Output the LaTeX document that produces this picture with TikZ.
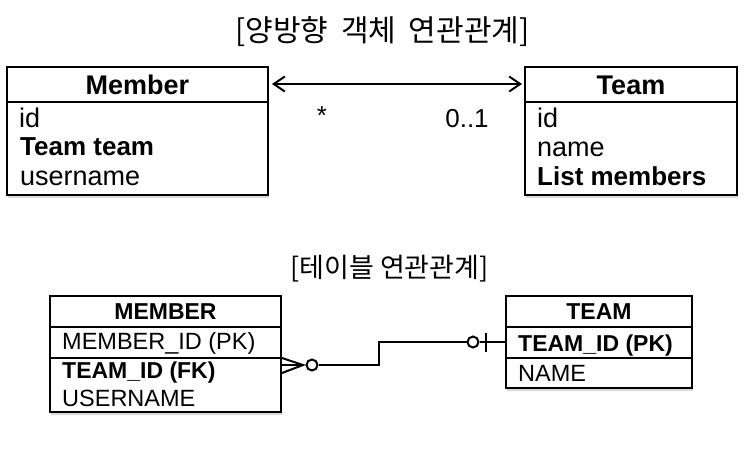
\documentclass[tikz,border=0pt]{standalone}
\usepackage{fontspec}
\setmainfont{Liberation Sans}
\newfontfamily\kr{Noto Sans CJK KR}
\usetikzlibrary{arrows.meta,shadows}
\begin{document}
\begin{tikzpicture}[x=1pt,y=-1pt,
  box/.style={draw, line width=2pt, fill=white, inner sep=0pt,
    drop shadow={shadow xshift=1pt, shadow yshift=-2.5pt, opacity=0.3}},
  sep/.style={line width=2pt},
  conn/.style={line width=2pt},
  ttlA/.style={inner sep=0pt, anchor=base, font=\kr\fontsize{30}{34}\selectfont},
  ttlB/.style={inner sep=0pt, anchor=base, font=\kr\fontsize{27}{31}\selectfont},
  hdA/.style={inner sep=0pt, anchor=base, font=\bfseries\fontsize{27}{30}\selectfont},
  rowA/.style={inner sep=0pt, anchor=base west, font=\fontsize{27}{30}\selectfont},
  rowAb/.style={inner sep=0pt, anchor=base west, font=\bfseries\fontsize{26}{30}\selectfont},
  hdB/.style={inner sep=0pt, anchor=base, font=\bfseries\fontsize{23}{28}\selectfont},
  rowB/.style={inner sep=0pt, anchor=base west, font=\fontsize{23.5}{28}\selectfont},
  rowBb/.style={inner sep=0pt, anchor=base west, font=\bfseries\fontsize{23}{28}\selectfont},
  ring/.style={circle, draw, line width=2pt, fill=white, minimum size=11pt, inner sep=0pt},
  mult/.style={inner sep=0pt, anchor=base, font=\fontsize{26}{30}\selectfont}]
\useasboundingbox (0,0) rectangle (750,448);

% ---------- top: object association ----------
\node[ttlA] (title1) at (382.5,41) {[양방향\hspace{0.2em} 객체\hspace{0.2em} 연관관계]};

\node[box, minimum width=261pt, minimum height=128pt] (M) at (137.5,131) {};
\draw[sep] (M.west |- 0,102) -- (M.east |- 0,102);
\node[hdA] (Mh) at (137.5,94) {Member};
\node[rowA]  (Mr1) at (19,127) {id};
\node[rowAb] (Mr2) at (20,155) {Team team};
\node[rowA]  (Mr3) at (20,185) {username};

\node[box, minimum width=212pt, minimum height=128pt] (T) at (631,131) {};
\draw[sep] (T.west |- 0,102) -- (T.east |- 0,102);
\node[hdA] (Th) at (631,94) {Team};
\node[rowA]  (Tr1) at (537,127) {id};
\node[rowA]  (Tr2) at (537,156) {name};
\node[rowAb] (Tr3) at (537,185) {List members};

\draw[line width=2pt, {Straight Barb[length=11pt,width=15pt]}-{Straight Barb[length=11pt,width=15pt]},
  shorten <=3pt, shorten >=2pt] (M.east |- 0,84) -- (T.west |- 0,84);
\node[mult] (star) at (322,124) {*};
\node[mult] (zo) at (467,127) {0..1};

% ---------- bottom: table association ----------
\node[ttlB] (title2) at (389.5,277) {[테이블 연관관계]};

\node[box, minimum width=231pt, minimum height=116pt] (M2) at (165.5,354) {};
\draw[sep] (M2.west |- 0,327) -- (M2.east |- 0,327);
\draw[sep] (M2.west |- 0,358) -- (M2.east |- 0,358);
\node[hdB] (M2h) at (165.5,319) {MEMBER};
\node[rowB]  (M2r1) at (62,349) {MEMBER\_ID (PK)};
\node[rowBb] (M2r2) at (62,378) {TEAM\_ID (FK)};
\node[rowB]  (M2r3) at (62,406) {USERNAME};

\node[box, minimum width=186pt, minimum height=92pt] (T2) at (599,342) {};
\draw[sep] (T2.west |- 0,327) -- (T2.east |- 0,327);
\draw[sep] (T2.west |- 0,358) -- (T2.east |- 0,358);
\node[hdB] (T2h) at (599,319) {TEAM};
\node[rowBb] (T2r1) at (518,351) {TEAM\_ID (PK)};
\node[rowB]  (T2r2) at (518,381) {NAME};

% crow's foot (many) with optional ring
\coordinate (cf) at (303,365);
\draw[conn] (M2.east |- 0,358) -- (cf) -- (M2.east |- 0,373);
\draw[conn] (M2.east |- 0,365) -- (cf);
\node[ring] (c1) at (312,365) {};
% optional one at TEAM side
\node[ring] (c2) at (473,342) {};
\coordinate (k1) at (379,365);
\coordinate (k2) at (379,342);
\draw[conn] (c1) -- (k1) -- (k2) -- (c2);
\draw[conn] (c2) -- (T2.west |- 0,342);
\coordinate (b1) at (486,333);
\coordinate (b2) at (486,352);
\draw[conn] (b1) -- (b2);
\end{tikzpicture}
\end{document}
